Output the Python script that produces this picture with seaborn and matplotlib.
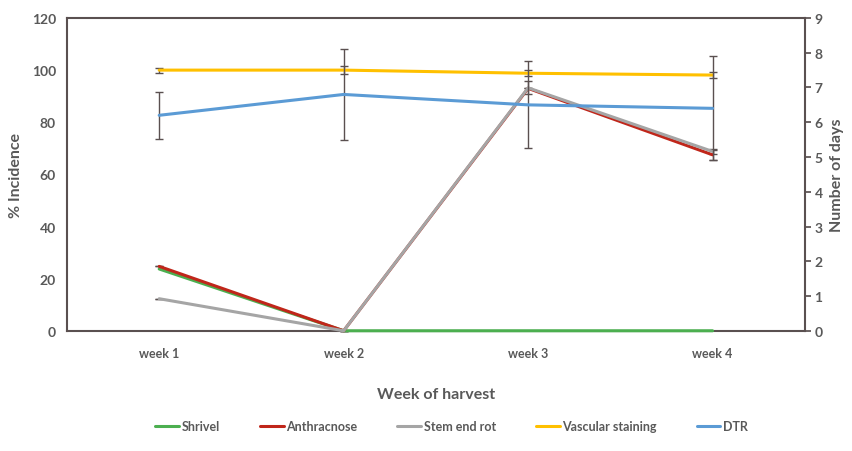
import matplotlib
matplotlib.use("Agg")
import matplotlib.pyplot as plt
import seaborn as sns
import pandas as pd
import numpy as np
from matplotlib.lines import Line2D

weeks = ["week 1", "week 2", "week 3", "week 4"]
shrivel = [23.7, 0, 0, 0]
anthracnose = [24.7, 0, 93.0, 67.5]
stem_end_rot = [12.3, 0, 93.2, 68.8]
vascular = [100.0, 100.0, 98.8, 98.1]
vascular_err = [1.0, 1.5, 1.2, 1.0]
anthracnose_err = [0, 0, 0, 1.8]
stem_err = [0, 0, 2.5, 1.0]
dtr_days = [6.2, 6.8, 6.5, 6.4]
dtr_err = [0.68, 1.3, 1.25, 1.5]

colors = {"Shrivel": "#4CAF50", "Anthracnose": "#C0261A", "Stem end rot": "#A5A5A5",
          "Vascular staining": "#FFC000", "DTR": "#5B9BD5"}
txt = "#595959"
spine_c = "#5a5050"

sns.set_theme(style="white")
plt.rcParams['font.family'] = ['Lato', 'DejaVu Sans']

df = pd.DataFrame({
    "week": weeks * 4,
    "value": shrivel + anthracnose + stem_end_rot + vascular,
    "series": ["Shrivel"] * 4 + ["Anthracnose"] * 4 + ["Stem end rot"] * 4 + ["Vascular staining"] * 4,
})
df_dtr = pd.DataFrame({"week": weeks, "value": dtr_days, "series": ["DTR"] * 4})

fig = plt.figure(figsize=(8.52, 4.52), dpi=100)
ax = fig.add_axes([0.0786, 0.266, 0.866, 0.692])
x = np.arange(len(weeks))

ax.errorbar(x, vascular, yerr=vascular_err, fmt="none", ecolor=spine_c, elinewidth=1, capsize=3, zorder=1)
ax.errorbar(x, anthracnose, yerr=anthracnose_err, fmt="none", ecolor=spine_c, elinewidth=1, capsize=3, zorder=1)
ax.errorbar(x, stem_end_rot, yerr=stem_err, fmt="none", ecolor=spine_c, elinewidth=1, capsize=3, zorder=1)

sns.lineplot(data=df, x="week", y="value", hue="series", palette=colors, linewidth=2.2,
             ax=ax, legend=False, sort=False, zorder=3)
for ln in ax.get_lines():
    ln.set_clip_on(False)

ax2 = ax.twinx()
ax2.errorbar(x, dtr_days, yerr=dtr_err, fmt="none", ecolor=spine_c, elinewidth=1, capsize=3, zorder=1)
sns.lineplot(data=df_dtr, x="week", y="value", hue="series", palette=colors, linewidth=2.2,
             ax=ax2, legend=False, sort=False, zorder=3)

ax.set_xlim(-0.5, 3.5)
ax.set_ylim(0, 120)
ax.set_yticks(np.arange(0, 121, 20))
ax2.set_ylim(0, 9)
ax2.set_yticks(np.arange(0, 10, 1))

for s in ax.spines.values():
    s.set_color(spine_c)
    s.set_linewidth(1.5)
    s.set_zorder(2)
ax.spines["right"].set_visible(False)
for name, s in ax2.spines.items():
    if name == "right":
        s.set_color(spine_c)
        s.set_linewidth(1.5)
    else:
        s.set_visible(False)

ax.tick_params(axis="y", length=0, labelsize=10, labelcolor=txt, pad=8)
ax.tick_params(axis="x", direction="in", length=3, color=spine_c, labelsize=9, labelcolor=txt, pad=12)
ax2.tick_params(axis="y", direction="out", length=4, color=spine_c, labelsize=10, labelcolor=txt, pad=3)
for lab in ax.get_yticklabels() + ax2.get_yticklabels() + ax.get_xticklabels():
    lab.set_fontweight("bold")

ax.set_xlabel("Week of harvest", fontsize=11.5, color=txt, fontweight="bold", labelpad=20)
ax.set_ylabel("% Incidence", fontsize=11.5, color=txt, fontweight="bold", labelpad=6)
ax2.set_ylabel("Number of days", fontsize=11.5, color=txt, fontweight="bold", labelpad=5)

names = ["Shrivel", "Anthracnose", "Stem end rot", "Vascular staining", "DTR"]
handles = [Line2D([0], [0], color=colors[n], lw=2.2) for n in names]
leg = fig.legend(handles, names, loc="center", bbox_to_anchor=(0.530, 0.055), ncol=5, frameon=False,
                 handlelength=1.9, handletextpad=0.2, columnspacing=3.2,
                 prop={"family": "Lato", "weight": "bold", "size": 9})
for t in leg.get_texts():
    t.set_color(txt)

fig.savefig("out.png", dpi=100)
